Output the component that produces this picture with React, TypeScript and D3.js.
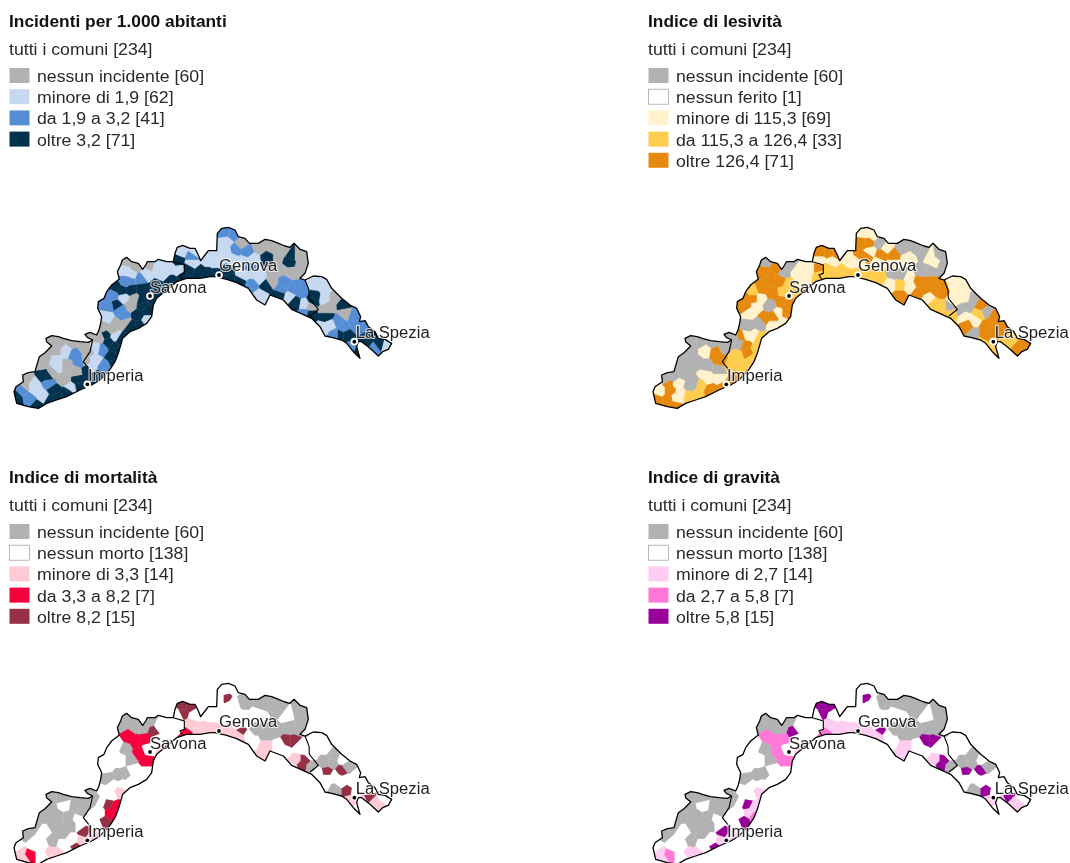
import React from "react";
import * as d3 from "d3";

type Seed = [number, number, number];
type Seed2 = [number, number, number, number];

// --- map geometry, in map units (3 units = 1 page pixel) ---
const outlineWest = [42,545,48,530,70,515,68,495,85,488,105,485,112,460,118,440,135,428,155,408,140,395,138,385,155,377,175,380,190,385,215,392,240,395,265,397,278,390,262,382,255,373,270,367,290,375,297,360,302,340,305,320,293,295,295,275,312,265,320,245,335,225,358,207,352,185,362,165,367,150,380,142,395,155,415,160,428,178,437,165,442,155,465,155,475,148,500,155,520,155,525,130,532,112,548,106,570,115,585,115,595,135,602,152,615,135,625,122,650,122,652,70,665,55,685,52,705,60,715,80,735,85,748,100,775,100,795,88,815,92,830,98,855,108,870,112,882,100,900,118,920,125,925,160,915,190,900,205,915,210,940,198,965,200,980,208,995,235,1015,255,1025,265,1050,285,1070,295,1082,320,1078,335,1095,332,1105,350,1125,365,1135,385,1155,388,1175,400,1165,418,1148,425,1135,438,1110,415,1085,395,1075,395,1070,410,1080,445,1060,425,1040,400,1025,390,995,382,975,378,960,350,935,325,902,310,875,298,850,270,810,255,795,285,770,270,745,235,710,218,680,208,645,200,630,200,600,205,560,205,530,215,500,240,470,265,460,285,455,320,440,340,415,355,390,365,368,385,355,430,345,455,330,478,300,510,275,525,240,540,200,560,170,570,140,580,115,595,85,590,50,580];
const provinceLines = [
  [278,390,270,425,250,455,262,470,268,478],
  [520,155,553,165,553,190,540,195,548,207],
  [915,210,927,240,928,265,955,298,930,318],
];

// --- incidenti per 1.000 abitanti: [x, y, class] 0 none, 1 low, 2 mid, 3 high ---
const incidentiWest: Seed[] = [
  [50,575,3],[45,555,3],[62,538,2],[90,568,2],[112,588,3],[85,510,0],[75,522,0],[110,540,1],[130,560,1],[100,520,1],[130,495,3],[145,500,3],[158,490,0],[148,520,2],[162,540,3],[172,562,3],[200,552,3],[215,535,1],[240,530,3],[235,510,3],[190,505,0],[175,470,1],[165,450,1],[200,470,0],[230,482,0],[125,462,0],[140,440,0],[165,420,0],[150,395,0],[180,400,0],[200,420,1],[225,430,2],[240,458,2],[215,400,0],[250,410,0],[265,425,0],[258,455,0],[262,480,3],[290,500,3],[285,450,1],[272,470,1],[305,415,2],[290,412,1],[315,470,2],[340,440,3],[345,410,3],[325,395,3],[320,375,3],[345,378,1],[365,390,3],[298,385,0],[270,378,0],[335,360,0],[310,350,0],[350,340,0],[375,335,0],[395,350,3],[420,345,3],[440,330,1],[415,315,3],[440,300,3],[370,265,1],[392,285,0],[405,265,0],[360,300,2],[370,320,2],[350,285,3],[325,290,2],[320,320,1],[310,265,2],[340,255,2],[350,232,3],[365,240,3],[395,240,3],[390,210,2],[420,205,2],[375,215,2],[375,180,1],[395,195,1],[380,155,0],[410,170,0],[450,170,0],[440,190,1],[470,175,1],[510,175,1],[540,180,1],[490,195,1],[425,240,3],[425,270,3],[430,290,3],[475,230,3],[510,215,3],[552,198,3],[535,150,3],[545,125,1],[575,140,2],[585,125,1],[575,160,1],[565,178,3],[600,190,3],[630,190,3],[630,150,1],[650,170,1],[650,135,1],
  [345,458,3],[278,518,3],[205,550,3],[150,572,3],[460,262,3],[355,420,3],
];
const incidentiEast: Seed[] = [
  [45,65,2],[70,75,2],[50,97,1],[95,100,0],[75,120,2],[110,125,2],[50,125,1],[65,145,1],[100,155,1],[30,145,1],[10,135,1],[130,150,1],[150,110,0],[190,115,0],[225,125,0],[175,145,3],[205,145,0],[240,135,3],[235,155,3],[270,135,0],[280,165,0],[240,190,0],[215,180,0],[190,190,0],[150,205,1],[130,190,1],[120,172,2],[170,225,3],[55,205,3],[90,215,3],[20,180,3],[125,225,2],[150,260,1],[185,215,0],[225,215,2],[250,235,2],[275,245,2],[215,240,2],[235,262,1],[210,255,3],[255,280,3],[285,285,1],[300,290,0],[285,310,2],[300,315,3],[310,270,3],[320,225,1],[315,260,3],[345,235,1],[345,265,1],[360,290,0],[375,265,0],[350,300,0],[400,285,3],[405,310,0],[435,320,2],[385,335,2],[350,320,3],[340,355,1],[360,345,1],[400,355,2],[410,375,3],[390,375,3],[375,375,2],[440,345,2],[420,415,2],[470,400,3],[490,415,2],[510,400,3],[530,405,1],[445,430,3],
  [20,198,3],[50,185,3],[100,195,1],
];

// --- indice di lesività: 0 none, 1 low, 2 mid, 3 high ---
const lesivitaWest: Seed[] = [
  [50,570,3],[60,540,1],[85,570,3],[105,585,3],[85,520,3],[90,540,3],[80,510,0],[115,520,1],[125,550,1],[100,500,0],[130,490,0],[120,460,0],[150,420,0],[155,395,0],[185,395,0],[170,460,0],[200,470,0],[235,480,0],[145,480,0],[195,495,1],[165,520,0],[150,530,0],[205,505,1],[235,505,1],[145,555,2],[170,555,2],[180,525,2],[215,540,3],[250,535,3],[275,525,3],[110,565,1],[200,420,1],[225,425,3],[240,450,3],[215,400,0],[255,410,0],[265,400,0],[285,385,0],[270,380,0],[300,400,0],[315,405,3],[305,380,3],[325,430,3],[290,440,2],[275,465,2],[310,465,2],[335,445,2],[350,420,2],[340,375,1],[320,375,1],[360,385,2],[325,350,0],[360,340,0],[375,325,3],[400,345,1],[430,335,1],[415,310,1],[440,310,3],[400,320,3],[390,285,0],[345,290,1],[320,290,3],[360,265,1],[340,265,3],[330,305,1],[315,265,3],[340,245,2],[365,235,3],[400,250,3],[390,210,3],[375,185,3],[420,215,3],[430,245,2],[470,250,2],[445,280,3],[425,275,3],[380,155,0],[410,172,3],[435,185,0],[450,170,0],[470,185,1],[510,175,1],[535,175,3],[495,190,1],[480,215,1],[445,225,2],[540,130,3],[565,130,3],[590,130,3],[540,150,1],[575,155,1],[565,175,2],[540,195,2],[600,190,2],[625,195,2],[640,155,1],[660,160,1],[625,135,1],
];
const lesivitaEast: Seed[] = [
  [45,70,1],[70,75,1],[55,100,3],[40,100,3],[90,100,0],[60,125,1],[110,115,1],[95,135,3],[130,135,3],[50,140,3],[25,135,3],[15,150,1],[85,160,1],[130,165,1],[160,115,0],[200,115,0],[220,130,0],[175,145,1],[240,140,1],[255,155,1],[270,135,0],[280,165,0],[240,185,0],[215,185,0],[130,190,0],[155,195,0],[175,205,1],[60,200,2],[90,205,2],[25,190,2],[150,225,2],[120,225,1],[180,230,1],[210,215,3],[240,215,3],[225,240,3],[255,240,3],[275,245,3],[205,250,3],[150,260,3],[235,262,1],[255,285,2],[280,290,2],[295,290,0],[310,270,1],[310,315,2],[290,315,2],[320,230,1],[350,225,1],[345,265,1],[330,305,0],[370,270,0],[350,290,0],[395,285,3],[410,305,0],[385,315,2],[435,320,3],[350,345,3],[340,320,1],[375,330,1],[410,350,3],[400,375,3],[435,360,3],[375,375,0],[420,420,2],[390,395,2],[470,410,2],[500,410,3],[525,405,3],[485,395,2],
];

// --- mortalità and gravità: [x, y, mortalità class, gravità class]; 4 = no deaths ---
const lowerWest: Seed2[] = [
  [150,385,0,0],[190,385,0,0],[150,415,0,0],[125,435,0,0],[100,470,0,0],[75,490,0,0],[130,490,4,4],[105,525,4,4],[175,440,0,0],[205,440,0,0],[170,465,0,0],[215,465,0,0],[190,490,0,0],[155,515,0,0],[240,465,4,4],[195,405,4,4],[225,410,0,0],[250,395,0,0],[245,425,0,0],[268,410,0,0],[235,450,4,4],[255,485,3,3],[275,500,1,1],[245,515,1,1],[215,510,4,4],[190,525,4,4],[230,535,3,3],[205,550,4,4],[150,545,1,1],[175,550,1,1],[130,525,4,4],[60,550,1,1],[90,560,2,2],[75,570,1,1],[125,560,4,4],[48,530,4,4],
  [265,370,0,0],[285,385,0,0],[305,395,4,4],[280,425,4,4],[270,450,4,4],[300,430,4,4],[325,402,3,3],[345,412,2,1],[330,430,2,1],[345,440,2,2],[315,455,3,3],[290,465,4,4],[310,365,4,4],[330,375,4,4],[360,360,1,1],[325,325,0,0],[355,318,0,0],[375,312,0,0],[340,345,4,4],[395,335,4,4],[430,320,4,4],[365,345,4,4],
  [385,150,0,0],[365,165,0,0],[405,170,0,0],[450,155,0,0],[340,250,4,4],[320,290,4,4],[375,235,0,0],[392,270,0,0],[360,270,4,4],[385,200,2,2],[410,215,2,2],[435,205,2,2],[420,250,2,2],[440,270,2,2],[460,185,3,3],[430,175,0,0],[480,170,4,4],[520,170,4,4],[470,210,4,4],[445,240,4,4],[490,243,1,1],[520,225,4,4],[400,300,4,4],[440,310,4,4],[350,225,4,4],
  [550,110,3,3],[570,110,3,3],[550,125,3,3],[530,135,4,4],[585,135,4,4],[575,165,1,1],[620,175,1,1],[640,185,1,1],[600,185,1,1],[555,192,2,2],[630,135,4,4],[655,140,4,4],[535,175,4,4],
];
const lowerEast: Seed2[] = [
  [50,85,3,3],[30,85,4,4],[72,98,4,4],[45,60,4,4],[75,60,4,4],[60,105,4,4],[100,90,0,0],[30,110,4,4],[70,130,4,4],[15,140,4,4],[10,175,1,1],[60,195,1,1],[85,200,1,1],[40,200,1,1],[100,178,3,3],[112,165,4,4],[92,162,4,4],[118,190,4,4],[100,150,4,4],[130,180,0,0],[170,170,0,0],[165,195,0,0],[195,180,0,0],[160,105,0,0],[190,110,0,0],[210,120,0,0],[150,135,4,4],[230,135,4,4],[270,125,0,0],[280,155,0,0],[240,175,0,0],[265,175,0,0],[250,215,3,3],[235,215,3,3],[225,240,4,4],[270,232,4,4],[130,215,4,4],[165,230,1,1],[160,250,1,1],[210,230,4,4],[200,265,4,4],[260,270,1,1],[285,270,3,3],[275,285,3,3],[300,255,4,4],[250,300,4,4],[305,290,0,0],[265,230,4,4],[290,240,4,4],[320,230,4,4],[345,230,4,4],[345,280,0,0],[375,255,0,0],[365,280,0,0],[350,305,3,3],[350,325,4,4],[325,310,4,4],[395,305,3,3],[405,328,4,4],[385,325,4,4],[415,290,0,0],[400,265,4,4],[375,320,4,4],[320,315,4,4],[340,340,4,4],[380,360,0,0],[410,360,3,3],[440,365,4,4],[395,338,4,4],[425,335,4,4],[440,320,4,4],[420,395,1,1],[475,385,3,3],[460,392,1,1],[510,405,1,1],[490,400,1,1],[525,385,4,4],[470,360,4,4],[445,420,4,4],
];

// --- cities ---
const cityNames = ["Savona", "Genova", "Imperia", "La Spezia"];
const cityPoints = [[450,258],[657,195],[262,523],[1063,395]];
const cityLabelAnchors = [[450,249],[657,183],[264,513],[1067,384]];

// --- legends ---
const titles = ["Incidenti per 1.000 abitanti", "Indice di lesività", "Indice di mortalità", "Indice di gravità"];
const subtitle = "tutti i comuni [234]";
const legendLabels = [
  ["nessun incidente [60]", "minore di 1,9 [62]", "da 1,9 a 3,2 [41]", "oltre 3,2 [71]"],
  ["nessun incidente [60]", "nessun ferito [1]", "minore di 115,3 [69]", "da 115,3 a 126,4 [33]", "oltre 126,4 [71]"],
  ["nessun incidente [60]", "nessun morto [138]", "minore di 3,3 [14]", "da 3,3 a 8,2 [7]", "oltre 8,2 [15]"],
  ["nessun incidente [60]", "nessun morto [138]", "minore di 2,7 [14]", "da 2,7 a 5,8 [7]", "oltre 5,8 [15]"],
];
const legendColors = [
  ["#b2b2b2", "#c6d9f1", "#558ed5", "#03324f"],
  ["#b2b2b2", "#ffffff", "#fff2cc", "#ffcc4d", "#e68a0f"],
  ["#b2b2b2", "#ffffff", "#ffccd5", "#f5003c", "#953045"],
  ["#b2b2b2", "#ffffff", "#ffccf2", "#ff78d8", "#990099"],
];
const classColors = [
  ["#b2b2b2", "#c6d9f1", "#558ed5", "#03324f", "#ffffff"],
  ["#b2b2b2", "#fff2cc", "#ffcc4d", "#e68a0f", "#ffffff"],
  ["#b2b2b2", "#ffccd5", "#f5003c", "#953045", "#ffffff"],
  ["#b2b2b2", "#ffccf2", "#ff78d8", "#990099", "#ffffff"],
];

const FONT = "'Liberation Sans', Arial, sans-serif";
const EAST = 630;
const pairs = (flat: number[]) => d3.range(0, flat.length, 2).map((i) => [flat[i], flat[i + 1]]);
const polygon = (flat: number[]) => {
  const ring = pairs(flat);
  ring.push(ring[0]);
  return { type: "Polygon", coordinates: [ring] } as any;
};

function seedsFor(i: number): Seed[] {
  if (i < 2) {
    const west = i === 0 ? incidentiWest : lesivitaWest;
    const east = i === 0 ? incidentiEast : lesivitaEast;
    return [
      ...west.map(([x, y, c]) => [x + 3 * i, y, c] as Seed),
      ...east.map(([x, y, c]) => [x + EAST + 3 * i, y, c] as Seed),
    ];
  }
  const k = i === 2 ? 2 : 3;
  return [
    ...lowerWest.map((s) => [s[0], s[1] + 12, s[k]] as Seed),
    ...lowerEast.map((s) => [s[0] + EAST, s[1] + 12, s[k]] as Seed),
  ];
}

const panelOrigins = [[0, 0], [639, 0], [0, 456], [639, 456]];

function Panel({ index }: { index: number }) {
  const [ox, oy] = panelOrigins[index];
  const project = d3.geoIdentity().scale(1 / 3).translate([0, 210]);
  const path = d3.geoPath(project as any);
  const outline = polygon(outlineWest);
  const color = d3.scaleOrdinal<number, string>().domain([0, 1, 2, 3, 4]).range(classColors[index]);
  const xs = 1.105;
  const swatchY = d3.scaleLinear().domain([0, 1]).range([68, 89.2]);
  const labels = legendLabels[index];
  const seeds = seedsFor(index);
  const voronoi = d3.Delaunay.from(seeds, (s) => s[0], (s) => s[1]).voronoi([0, 0, 1300, 700]);
  return (
    <g transform={`translate(${ox},${oy})`} fontFamily={FONT} fill="#2a2a2a">
      <text transform={`translate(9,27) scale(${xs},1)`} fontSize={15.7} fontWeight="bold" fill="#111">{titles[index]}</text>
      <text transform={`translate(9,55) scale(${xs},1)`} fontSize={16}>{subtitle}</text>
      {labels.map((l, k) => (
        <g key={l}>
          <rect x={9.5} y={swatchY(k)} width={20} height={15} fill={legendColors[index][k]} stroke={legendColors[index][k] === "#ffffff" ? "#9a9a9a" : "none"} strokeWidth={0.7} />
          <text transform={`translate(37,${swatchY(k) + 14}) scale(${xs},1)`} fontSize={16}>{l}</text>
        </g>
      ))}
      <clipPath id={`clip-${index}`}><path d={path(outline) as string} /></clipPath>
      <g clipPath={`url(#clip-${index})`}>
        {seeds.map((s, k) => {
          const cell = voronoi.cellPolygon(k);
          return cell ? (
            <path key={k} d={path({ type: "Polygon", coordinates: [cell] } as any) as string} fill={color(s[2])} stroke={color(s[2])} strokeWidth={0.4} />
          ) : null;
        })}
      </g>
      {provinceLines.map((l, k) => (
        <path key={k} d={path({ type: "LineString", coordinates: pairs(l) } as any) as string} fill="none" stroke="#000" strokeWidth={1.1} />
      ))}
      <path d={path(outline) as string} fill="none" stroke="#000" strokeWidth={1.3} strokeLinejoin="round" />
      {cityNames.map((name, k) => {
        const [px, py] = project(cityPoints[k] as [number, number]) as [number, number];
        const [tx, ty] = project(cityLabelAnchors[k] as [number, number]) as [number, number];
        return (
          <g key={name}>
            <circle cx={px} cy={py} r={index < 2 ? 3.8 : 3} fill="#fff" />
            <circle cx={px} cy={py} r={1.9} fill="#000" />
            <text transform={`translate(${tx},${ty}) scale(1.04,1)`} fontSize={16} fill="#222" stroke="#fff" strokeWidth={2} strokeOpacity={0.75} paintOrder="stroke">{name}</text>
          </g>
        );
      })}
    </g>
  );
}

export default function App() {
  return (
    <svg width={1070} height={863} viewBox="0 0 1070 863" style={{ position: "absolute", left: 0, top: 0, display: "block", filter: "blur(0.4px)" }}>
      <rect width={1070} height={863} fill="#fff" />
      {[0, 1, 2, 3].map((i) => <Panel key={i} index={i} />)}
    </svg>
  );
}
